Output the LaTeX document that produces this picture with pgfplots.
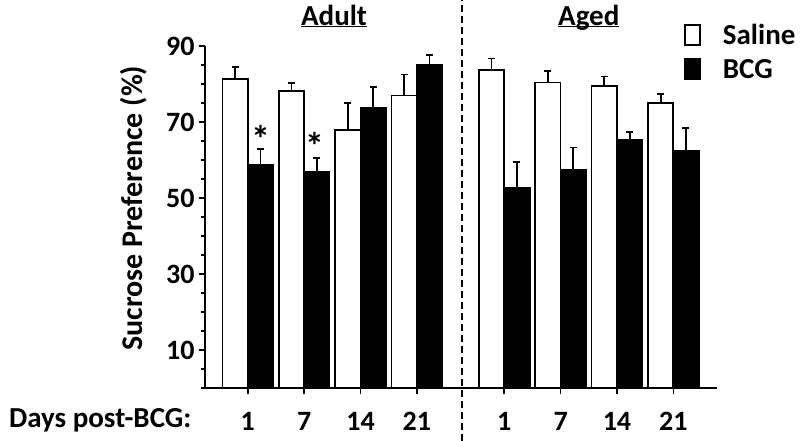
\documentclass[border=0pt]{standalone}
\usepackage{fontspec}
\setmainfont{Carlito}
\usepackage{pgfplots}
\pgfplotsset{compat=1.18}
\newcommand{\fnt}{\fontsize{29}{34}\selectfont\bfseries}
\begin{document}
\begin{tikzpicture}
\path[use as bounding box] (0pt,0pt) rectangle (800pt,441pt);
\begin{axis}[
  at={(205pt,53pt)}, anchor=south west,
  scale only axis, width=511.7pt, height=342pt,
  xmin=-0.76, xmax=8.32, ymin=0, ymax=90,
  axis x line*=bottom, axis y line*=left,
  axis line style={line width=2pt, -},
  font=\fontsize{28}{33}\selectfont\bfseries,
  /pgf/number format/assume math mode=true,
  xtick={0,1,2,3,4.55,5.55,6.55,7.55},
  xticklabels={1,7,14,21,1,7,14,21},
  ytick={10,30,50,70,90},
  yticklabels={10,30,50,70,90},
  minor ytick={0,5,...,90},
  tick align=outside,
  major tick length=6pt, minor tick length=4pt,
  every tick/.style={black, line width=1.6pt},
  xticklabel style={anchor=base, yshift=-37pt},
  yticklabel style={xshift=-1pt},
  ylabel={Sucrose Preference (\%)},
  every axis y label/.style={at={(rel axis cs:-0.139,0.526)}, rotate=90, anchor=center, font=\fontsize{30}{34}\selectfont\bfseries},
  clip=false,
  legend style={at={(rel axis cs:0.936,1.07)}, anchor=north west, draw=none, fill=none,
    font=\fnt, row sep=9pt, inner sep=0pt},
  legend cell align=left,
]
\addplot[ybar, bar width=0.45, bar shift=0, draw=black, fill=white, line width=1.8pt,
  error bars/.cd, y dir=plus, y explicit,
  error bar style={line width=1.8pt},
  error mark options={rotate=90, mark size=3.5pt, line width=1.8pt},
  /pgfplots/legend image code/.code={\draw[black, fill=white, line width=1.8pt] (0pt,-10pt) rectangle (15pt,10pt); \path (35pt,0pt);}]
  coordinates {
  (-0.225,81.3) +- (0,3.1)
  (0.775,78.1) +- (0,2.1)
  (1.775,67.8) +- (0,7.3)
  (2.775,77.0) +- (0,5.5)
  (4.325,83.6) +- (0,3.1)
  (5.325,80.4) +- (0,3.0)
  (6.325,79.4) +- (0,2.6)
  (7.325,75.1) +- (0,2.2)
  };
\addlegendentry{Saline}
\addplot[ybar, bar width=0.45, bar shift=0, draw=black, fill=black, line width=1.8pt,
  error bars/.cd, y dir=plus, y explicit,
  error bar style={line width=1.8pt},
  error mark options={rotate=90, mark size=3.5pt, line width=1.8pt},
  /pgfplots/legend image code/.code={\draw[black, fill=black, line width=1.8pt] (0pt,-10pt) rectangle (15pt,10pt); \path (35pt,0pt);}]
  coordinates {
  (0.225,58.7) +- (0,4.2)
  (1.225,56.8) +- (0,3.7)
  (2.225,73.7) +- (0,5.5)
  (3.225,85.1) +- (0,2.5)
  (4.775,52.7) +- (0,6.7)
  (5.775,57.3) +- (0,6.0)
  (6.775,65.3) +- (0,2.1)
  (7.775,62.5) +- (0,6.0)
  };
\addlegendentry{BCG}
\draw[black, line width=1.5pt, dash pattern=on 7pt off 4pt] (axis cs:3.8,-14) -- (axis cs:3.8,102);
\node[font=\fnt, anchor=base] at (axis cs:1.53,95.5) {\underline{\raisebox{0pt}[\height][0pt]{Adult}}};
\node[font=\fnt, anchor=base] at (axis cs:6.05,95.5) {\underline{\raisebox{0pt}[\height][0pt]{Aged}}};
\node[font=\fontsize{38}{38}\selectfont\bfseries] at (axis cs:0.225,65.5) {*};
\node[font=\fontsize{38}{38}\selectfont\bfseries] at (axis cs:1.2,63.6) {*};
\node[font=\fnt, anchor=base] at (axis cs:-2.62,-10.5) {Days post-BCG:};
\end{axis}
\end{tikzpicture}
\end{document}
